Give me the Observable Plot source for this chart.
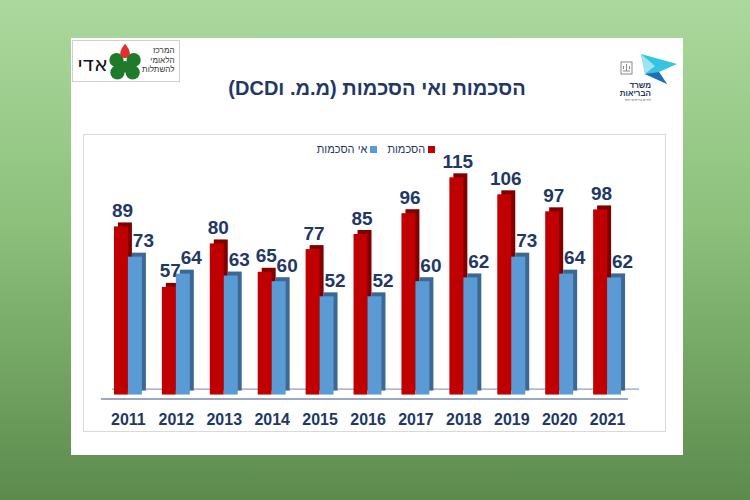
<!DOCTYPE html>
<html lang="he">
<head>
<meta charset="utf-8">
<script src="https://cdn.jsdelivr.net/npm/d3@7"></script>
<script src="https://cdn.jsdelivr.net/npm/@observablehq/plot@0.6"></script>
<style>
  html, body { margin: 0; padding: 0; }
  body {
    width: 750px; height: 500px; overflow: hidden; position: relative;
    background: linear-gradient(180deg, #acd99e 0%, #8cc07b 45%, #5c8b4d 100%);
    font-family: Arial, "Liberation Sans", "DejaVu Sans", sans-serif;
  }
  #panel { position: absolute; left: 71px; top: 38px; width: 612px; height: 417px; background: #fff; }
  #title {
    position: absolute; left: 0; top: 39px; width: 612px; text-align: center;
    font-size: 20px; font-weight: bold; color: #1f3864; direction: rtl;
  }
  #chartbox {
    position: absolute; left: 12px; top: 96px; width: 583px; height: 298px;
    border: 1px solid #d9d9d9; box-sizing: border-box;
  }
  #chart { position: absolute; left: -1px; top: -1px; }
  #legend {
    position: absolute; left: 230px; top: 105px; width: 150px; direction: rtl;
    display: flex; gap: 10px; justify-content: center;
    font-size: 11px; color: #1f3864;
  }
  #legend span.sw { display: inline-block; width: 7px; height: 7px; margin-left: 3px; vertical-align: 0px; }
  #logoL { position: absolute; left: 1px; top: 2px; width: 108px; height: 42px; border: 1px solid #d0d0d0; box-sizing: border-box; }
  #logoR { position: absolute; left: 544px; top: 6px; width: 66px; height: 58px; }
</style>
</head>
<body>
<div id="panel">
  <svg id="logoL" viewBox="0 0 108 42" width="108" height="42">
    <text x="35" y="31" text-anchor="end" font-size="22" font-family="DejaVu Sans, sans-serif" fill="#111">אדי</text>
    <circle cx="44" cy="20" r="7.5" fill="#1f7a2a"/>
    <circle cx="62" cy="20" r="7.5" fill="#1f7a2a"/>
    <circle cx="45" cy="33" r="7.5" fill="#1f7a2a"/>
    <circle cx="61" cy="33" r="7.5" fill="#1f7a2a"/>
    <circle cx="53" cy="27" r="6" fill="#1f7a2a"/>
    <path d="M53 3 C57 8 58 11 58 13 A5 5 0 0 1 48 13 C48 11 49 8 53 3Z" fill="#e0302f"/>
    <text x="105" y="13" text-anchor="end" font-size="8.5" fill="#333">המרכז</text>
    <text x="105" y="23" text-anchor="end" font-size="8.5" fill="#333">הלאומי</text>
    <text x="105" y="33" text-anchor="end" font-size="8.5" fill="#333">להשתלות</text>
  </svg>
  <svg id="logoR" viewBox="0 0 66 58" width="66" height="58">
    <rect x="6" y="18" width="11" height="12" fill="none" stroke="#8a8a8a" stroke-width="1"/>
    <path d="M8 27 L15 27 M11.5 20 L11.5 27 M8.5 22 L8.5 25 M14.5 22 L14.5 25" stroke="#8a8a8a" stroke-width="1"/>
    <path d="M26 10 L62 20 L44 28 L52 40 L30 30 Z" fill="#35c4e0"/>
    <path d="M30 30 L44 28 L52 40 Z" fill="#1e6fb8"/>
    <path d="M26 10 L40 22 L30 30 Z" fill="#9fe3ef"/>
    <text x="36" y="44" text-anchor="end" font-size="8" font-weight="bold" fill="#1f3864">משרד</text>
    <text x="36" y="52" text-anchor="end" font-size="8" font-weight="bold" fill="#1f3864">הבריאות</text>
    <text x="36" y="57" text-anchor="end" font-size="3.5" fill="#555">לחיים בריאים יותר</text>
  </svg>
  <div id="title">הסכמות ואי הסכמות (מ.מ. וDCD)</div>
  <div id="legend">
    <div><span class="sw" style="background:#c00000"></span>הסכמות</div>
    <div><span class="sw" style="background:#5b9bd5"></span>אי הסכמות</div>
  </div>
  <div id="chartbox"><div id="chart"></div></div>
</div>
<script>
const years = ["2011","2012","2013","2014","2015","2016","2017","2018","2019","2020","2021"];
const consents = [89, 57, 80, 65, 77, 85, 96, 115, 106, 97, 98];
const refusals = [73, 64, 63, 60, 52, 52, 60, 62, 73, 64, 62];

const consentData = years.map((year, i) => ({year, value: consents[i]}));
const refusalData = years.map((year, i) => ({year, value: refusals[i]}));

const navy = "#1f3864";
const labelFont = {fontSize: 19, fontWeight: "bold", fill: navy, fontFamily: "Arial, 'Liberation Sans', sans-serif"};

const chart = Plot.plot({
  width: 583,
  height: 298,
  marginLeft: 21,
  marginRight: 34,
  marginTop: 15,
  marginBottom: 37,
  style: {background: "transparent", overflow: "visible"},
  x: {domain: years, paddingInner: 0.4167, paddingOuter: 0.2083, label: null},
  y: {domain: [0, 130], axis: null},
  marks: [
    Plot.ruleY([0], {stroke: "#9aa9be", strokeWidth: 2, dy: 4, dx: -3}),
    Plot.ruleY([0], {stroke: "#8ea2bf", strokeWidth: 1.2, dy: -6, dx: 8}),
    Plot.barY(consentData, {x: "year", y: "value", insetRight: 14, fill: "#800000", dx: 4, dy: -4}),
    Plot.barY(consentData, {x: "year", y: "value", insetRight: 14, fill: "#c00000"}),
    Plot.barY(refusalData, {x: "year", y: "value", insetLeft: 14, fill: "#3c6994", dx: 4, dy: -4}),
    Plot.barY(refusalData, {x: "year", y: "value", insetLeft: 14, fill: "#5b9bd5"}),
    Plot.text(consentData, {x: "year", y: "value", text: d => String(d.value), dx: -6, dy: -16, ...labelFont}),
    Plot.text(refusalData, {x: "year", y: "value", text: d => String(d.value), dx: 15, dy: -16, ...labelFont}),
    Plot.axisX({tickSize: 0, tickPadding: 19, fontSize: 16, fontWeight: "bold", fill: navy, label: null,
                fontFamily: "Arial, 'Liberation Sans', sans-serif"})
  ]
});
document.getElementById("chart").append(chart);
</script>
</body>
</html>
